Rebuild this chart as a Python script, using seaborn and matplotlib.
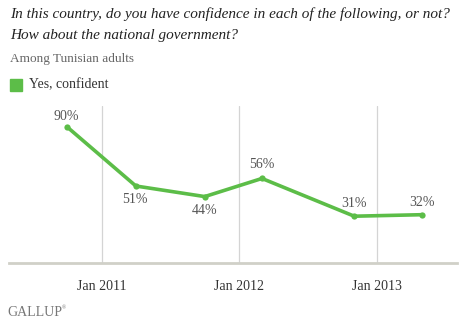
import matplotlib
matplotlib.use("Agg")
import matplotlib.pyplot as plt
import seaborn as sns
import pandas as pd

# Survey waves and share saying "Yes, confident"
dates = ["2010-10-01", "2011-04-01", "2011-10-01", "2012-03-01", "2012-11-01", "2013-05-01"]
confident = [90, 51, 44, 56, 31, 32]
tick_dates = ["2011-01-01", "2012-01-01", "2013-01-01"]
tick_labels = ["Jan 2011", "Jan 2012", "Jan 2013"]

df = pd.DataFrame({"date": pd.to_datetime(dates), "value": confident})

sns.set_theme(style="white")
plt.rcParams["font.family"] = ["Liberation Serif", "DejaVu Serif"]

GREEN = "#5cbd48"
TEXT = "#555555"

fig = plt.figure(figsize=(4.64, 3.25), dpi=100)
W, H = 464, 325
ax = fig.add_axes([9 / W, 1 - 263 / H, (457 - 9) / W, (263 - 106) / H])

sns.lineplot(data=df, x="date", y="value", ax=ax, color=GREEN, linewidth=2.6,
             marker="o", markersize=4.5, markeredgewidth=0, zorder=3)

ax.set_ylim(0, 104)
ax.set_xlim(pd.Timestamp("2010-04-29"), pd.Timestamp("2013-08-01"))

ticks = pd.to_datetime(tick_dates)
ax.set_xticks(ticks)
ax.set_xticklabels(tick_labels, fontsize=10, color="#333333")
ax.tick_params(axis="x", length=0, pad=12)
ax.set_yticks([])
for t in ticks:
    ax.axvline(t, color="#d4d4d4", linewidth=0.9, zorder=1)

for s in ["top", "right", "left"]:
    ax.spines[s].set_visible(False)
ax.spines["bottom"].set_color("#d0d0c8")
ax.spines["bottom"].set_linewidth(2)
ax.set_xlabel("")
ax.set_ylabel("")

# Value labels: above for peaks, below for troughs
offsets = [(-1, 8), (-1, -10), (0, -10), (0, 10), (0, 9), (0, 9)]
for (d, v), (dx, dy) in zip(zip(df["date"], df["value"]), offsets):
    ax.annotate(f"{v}%", (d, v), xytext=(dx, dy), textcoords="offset points",
                ha="center", va="center", fontsize=10, color=TEXT)

fig.text(10 / W, 1 - 14 / H, "In this country, do you have confidence in each of the following, or not?",
         fontsize=11.0, style="italic", color="#222222", va="center")
fig.text(10 / W, 1 - 36 / H, "How about the national government?",
         fontsize=11.0, style="italic", color="#222222", va="center")
fig.text(10 / W, 1 - 59 / H, "Among Tunisian adults", fontsize=9.5, color="#666666", va="center")
fig.patches.append(plt.Rectangle((10 / W, 1 - 91 / H), 12 / W, 12 / H,
                                 transform=fig.transFigure, color=GREEN, figure=fig))
fig.text(29 / W, 1 - 85 / H, "Yes, confident", fontsize=10, color="#333333", va="center")
fig.text(7 / W, 1 - 313 / H, "GALLUP", fontsize=10, color="#777777", va="center")
fig.text(62 / W, 1 - 308 / H, "\u00ae", fontsize=4, color="#777777", va="center")

fig.savefig("out.png", dpi=100)
